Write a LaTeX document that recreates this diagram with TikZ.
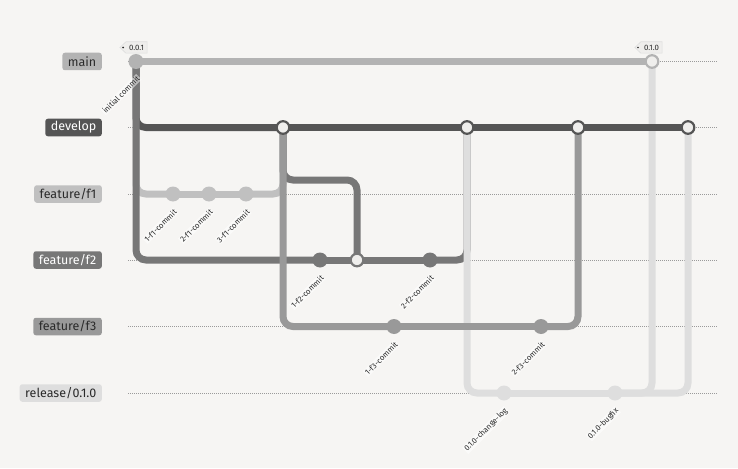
\documentclass[tikz,border=0pt]{standalone}
\usepackage{fontspec}
\setmainfont{Fira Sans}
\usetikzlibrary{calc,backgrounds}
\definecolor{ggbg}{HTML}{F6F5F3}
\definecolor{ggmain}{HTML}{B3B3B3}
\definecolor{ggdev}{HTML}{555555}
\definecolor{ggfone}{HTML}{C0C0C0}
\definecolor{ggftwo}{HTML}{777777}
\definecolor{ggfthree}{HTML}{999999}
\definecolor{ggrel}{HTML}{DEDEDE}
\definecolor{ggink}{HTML}{2A2A2A}
\definecolor{gginner}{HTML}{EFEEEC}
\definecolor{gggrid}{HTML}{9A9A9A}

\begin{document}
\begin{tikzpicture}[x=1pt,y=-1pt,
    commit/.style={circle,inner sep=0pt,minimum size=15pt},
    mergec/.style={circle,inner sep=0pt,minimum size=12.6pt,line width=2.2pt,fill=gginner},
    gline/.style={line width=7pt,rounded corners=10pt},
    guide/.style={draw=gggrid,line width=0.6pt,dash pattern=on 1pt off 1pt},
    blabel/.style={anchor=east,rounded corners=2.5pt,inner xsep=5.5pt,inner ysep=0pt,minimum height=17.5pt,font=\fontsize{12.5}{14}\selectfont},
    clabel/.style={anchor=east,rotate=45,inner sep=0.8pt,fill=white,fill opacity=0.5,text opacity=1,text=ggink,font=\fontsize{7.8}{9}\selectfont},
    tagtxt/.style={inner xsep=3pt,inner ysep=0pt,minimum height=11pt,text=ggink,font=\fontsize{7.8}{8}\selectfont},
    tagbox/.style={fill=gginner,draw=ggrel,line width=0.6pt}]
  \useasboundingbox (0,0) rectangle (738,468);

  % branch names
  \node[blabel,fill=ggmain,text=ggink] (bmain) at (102,61.5) {main};
  \node[blabel,fill=ggdev,text=white] (bdev) at (102,127.5) {develop};
  \node[blabel,fill=ggfone,text=ggink] (bfone) at (102,194) {feature/f1};
  \node[blabel,fill=ggftwo,text=white] (bftwo) at (102,260) {feature/f2};
  \node[blabel,fill=ggfthree,text=ggink] (bfthree) at (102,326.5) {feature/f3};
  \node[blabel,fill=ggrel,text=ggink] (brel) at (102,393) {release/0.1.0};

  % commits
  \node[commit,fill=ggmain] (init) at (136,61.5) {};
  \node[commit,fill=ggfone] (f1a) at (173,194) {};
  \node[commit,fill=ggfone] (f1b) at (209,194) {};
  \node[commit,fill=ggfone] (f1c) at (246,194) {};
  \node[mergec,draw=ggdev] (d1) at (283,127.5) {};
  \node[commit,fill=ggftwo] (f2a) at (320,260) {};
  \node[mergec,draw=ggftwo] (f2m) at (357,260) {};
  \node[commit,fill=ggfthree] (f3a) at (394,326.5) {};
  \node[commit,fill=ggftwo] (f2b) at (430,260) {};
  \node[mergec,draw=ggdev] (d2) at (467,127.5) {};
  \node[commit,fill=ggrel] (r1) at (504,393) {};
  \node[commit,fill=ggfthree] (f3b) at (541,326.5) {};
  \node[mergec,draw=ggdev] (d3) at (578,127.5) {};
  \node[commit,fill=ggrel] (r2) at (615,393) {};
  \node[mergec,draw=ggmain] (m1) at (652,61.5) {};
  \node[mergec,draw=ggdev] (d4) at (688,127.5) {};

  % commit messages
  \node[clabel] (linit) at ($(init.center)+(3,15)$) {initial commit};
  \node[clabel] (lf1a) at ($(f1a.center)+(3,16)$) {1-f1-commit};
  \node[clabel] (lf1b) at ($(f1b.center)+(3,16)$) {2-f1-commit};
  \node[clabel] (lf1c) at ($(f1c.center)+(3,16)$) {3-f1-commit};
  \node[clabel] (lf2a) at ($(f2a.center)+(3,16)$) {1-f2-commit};
  \node[clabel] (lf2b) at ($(f2b.center)+(3,16)$) {2-f2-commit};
  \node[clabel] (lf3a) at ($(f3a.center)+(3,16)$) {1-f3-commit};
  \node[clabel] (lf3b) at ($(f3b.center)+(3,16)$) {2-f3-commit};
  \node[clabel] (lr1) at ($(r1.center)+(3,16)$) {0.1.0-change-log};
  \node[clabel] (lr2) at ($(r2.center)+(3,16)$) {0.1.0-bugfix};

  % tags
  \node[tagtxt] (tinit) at (136.5,47.5) {0.0.1};
  \node[tagtxt] (tm1) at (651.5,47.5) {0.1.0};

  \begin{scope}[on background layer]
    \fill[ggbg] (0,0) rectangle (738,468);
    \foreach \y in {61.5,127.5,194,260,326.5,393}
      \draw[guide] (128,\y) -- (718,\y);
    % branch lines, in commit order
    \draw[gline,ggfone] (init.center) |- (f1a.center);
    \draw[gline,ggfone] (f1a.center) -- (f1b.center);
    \draw[gline,ggfone] (f1b.center) -- (f1c.center);
    \draw[gline,ggdev] (init.center) |- (d1.center);
    \draw[gline,ggfone] (f1c.center) -| (d1.center);
    \draw[gline,ggftwo] (init.center) |- (f2a.center);
    \draw[gline,ggftwo] (f2a.center) -- (f2m.center);
    \draw[gline,ggftwo] (d1.center) |- ($(f2m.center)+(0,-80)$) -- (f2m.center);
    \draw[gline,ggfthree] (d1.center) |- (f3a.center);
    \draw[gline,ggftwo] (f2m.center) -- (f2b.center);
    \draw[gline,ggdev] (d1.center) -- (d2.center);
    \draw[gline,ggftwo] (f2b.center) -| (d2.center);
    \draw[gline,ggrel] (d2.center) |- (r1.center);
    \draw[gline,ggfthree] (f3a.center) -- (f3b.center);
    \draw[gline,ggdev] (d2.center) -- (d3.center);
    \draw[gline,ggfthree] (f3b.center) -| (d3.center);
    \draw[gline,ggrel] (r1.center) -- (r2.center);
    \draw[gline,ggmain] (init.center) -- (m1.center);
    \draw[gline,ggrel] (r2.center) -| (m1.center);
    \draw[gline,ggdev] (d3.center) -- (d4.center);
    \draw[gline,ggrel] (r2.center) -| (d4.center);
    % tag shapes
    \foreach \t in {tinit,tm1}{
      \draw[tagbox] (\t.north west) -- (\t.north east) -- (\t.south east) -- (\t.south west) -- ($(\t.west)+(-6,0)$) -- cycle;
      \fill[ggink] ($(\t.west)+(-2.8,0)$) circle (0.9);
    }
  \end{scope}
\end{tikzpicture}
\end{document}
